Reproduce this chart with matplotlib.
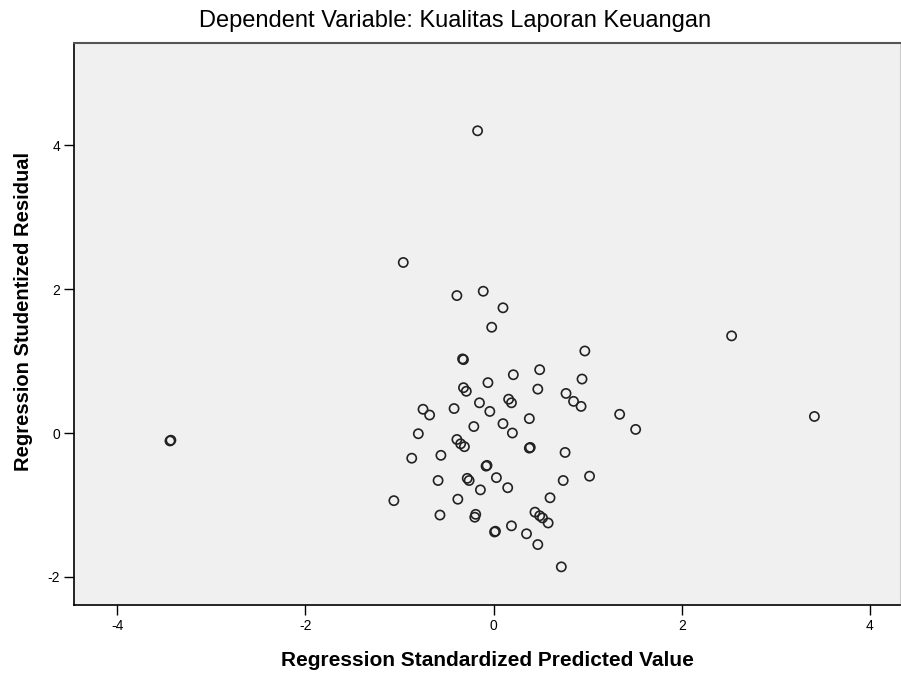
import matplotlib
matplotlib.use("Agg")
import matplotlib.pyplot as plt

plt.rcParams['font.family'] = ['Liberation Sans', 'DejaVu Sans']
plt.rcParams['axes.unicode_minus'] = False

title = "Dependent Variable: Kualitas Laporan Keuangan"
x_label = "Regression Standardized Predicted Value"
y_label = "Regression Studentized Residual"
x_ticks = [-4, -2, 0, 2, 4]
y_ticks = [-2, 0, 2, 4]

pred = [-0.17, -0.96, -0.39, -0.11, 0.10, -0.02, 2.53, 3.41, -3.44, -3.43,
        -0.33, -0.32, 0.97, 0.21, 0.49, -0.06, -0.32, -0.29, 0.94, 0.47,
        0.77, 0.85, 0.93, 1.34, 1.51, -0.75, -0.68, -0.42, -0.15, -0.04,
        0.16, 0.19, 0.38, -0.80, -0.21, 0.10, 0.20, -0.39, -0.35, -0.31,
        0.38, 0.39, -0.87, -0.56, 0.76, -0.08, -0.07, -0.59, -0.28, -0.26,
        0.03, -0.14, 0.15, 0.74, 1.02, -1.06, -0.38, 0.60, -0.57, -0.19,
        -0.20, 0.44, 0.49, 0.52, 0.58, 0.01, 0.02, 0.19, 0.35, 0.47, 0.72]
resid = [4.20, 2.37, 1.91, 1.97, 1.74, 1.47, 1.35, 0.23, -0.11, -0.10,
         1.03, 1.02, 1.14, 0.81, 0.88, 0.70, 0.63, 0.58, 0.75, 0.61,
         0.55, 0.44, 0.37, 0.26, 0.05, 0.33, 0.25, 0.34, 0.42, 0.30,
         0.47, 0.42, 0.20, -0.01, 0.09, 0.13, 0.00, -0.09, -0.15, -0.19,
         -0.21, -0.20, -0.35, -0.31, -0.27, -0.46, -0.45, -0.66, -0.63, -0.66,
         -0.62, -0.79, -0.76, -0.66, -0.60, -0.94, -0.92, -0.90, -1.14, -1.13,
         -1.17, -1.10, -1.15, -1.18, -1.25, -1.375, -1.365, -1.29, -1.40, -1.55, -1.86]

fig = plt.figure(figsize=(9.01, 6.73), dpi=100)
ax = fig.add_axes([74/901, 1 - 605/673, (900 - 74)/901, (605 - 43)/673])
ax.set_facecolor('#F0F0F0')

ax.scatter(pred, resid, s=44, facecolors='none', edgecolors='#222222', linewidths=1.2, zorder=3)

ax.set_xlim(-4.46, 4.32)
ax.set_ylim(-2.39, 5.42)
ax.set_xticks(x_ticks)
ax.set_yticks(y_ticks)
ax.tick_params(direction='out', length=7, width=1, labelsize=10, colors='black', pad=3)

for side in ['left', 'bottom']:
    ax.spines[side].set_color('black')
    ax.spines[side].set_linewidth(1.2)
ax.spines['top'].set_color('#555555')
ax.spines['top'].set_linewidth(1.5)
ax.spines['right'].set_color('#cccccc')
ax.spines['right'].set_linewidth(0.8)

ax.set_xlabel(x_label, fontsize=15, fontweight='bold', labelpad=13)
ax.set_ylabel(y_label, fontsize=14.5, fontweight='bold')
ax.yaxis.set_label_coords(-0.050, 0.523)
fig.text(455/901, 1 - 21/673, title, ha='center', va='center', fontsize=17)

fig.savefig('out.png', dpi=100)
